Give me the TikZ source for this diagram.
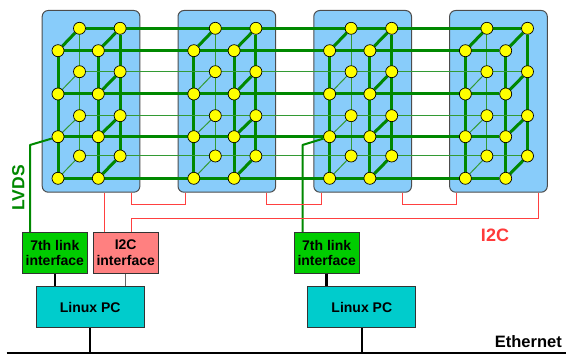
\documentclass[tikz,border=0pt]{standalone}
\usepackage{fontspec}
\setmainfont{Liberation Sans}
\usetikzlibrary{calc}
\pgfdeclarelayer{bg}
\pgfdeclarelayer{edges}
\pgfsetlayers{bg,edges,main}
\definecolor{boxblue}{HTML}{88CCFA}
\definecolor{gdark}{HTML}{008800}
\definecolor{glight}{HTML}{339A33}
\definecolor{linkgreen}{HTML}{00CC00}
\definecolor{i2cpink}{HTML}{FF8080}
\definecolor{pccyan}{HTML}{00CCCC}
\definecolor{redline}{HTML}{FF4040}
\definecolor{dotyellow}{HTML}{FFFF00}
\begin{document}
\begin{tikzpicture}[x=1pt,y=-1pt,
  cubebox/.style={draw=black!70,line width=1pt,fill=boxblue,rounded corners=6pt,minimum width=97.7pt,minimum height=181.7pt,anchor=north west,inner sep=0pt},
  dot/.style={circle,draw=black,line width=0.7pt,fill=dotyellow,minimum size=12pt,inner sep=0pt},
  gthick/.style={draw=gdark,line width=3pt},
  gthin/.style={draw=glight,line width=1pt},
  redw/.style={draw=redline,line width=1pt},
  blk/.style={draw=black,line width=2.5pt},
  lbl/.style={font=\bfseries\fontsize{14}{15.3}\selectfont,align=center,inner sep=0pt},
  hwbox/.style={draw=black!80,line width=1pt,minimum width=65pt,minimum height=41pt,lbl},
  pcbox/.style={draw=black!80,line width=1pt,fill=pccyan,minimum width=108.3pt,minimum height=40.6pt,lbl}
]
\useasboundingbox (0,0) rectangle (566,355);

% cube boards and nodes
\foreach \b in {1,...,4} {
  \pgfmathsetmacro\bx{41.7+135.8*(\b-1)}
  \begin{pgfonlayer}{bg}
    \node[cubebox] (box\b) at (\bx,10) {};
  \end{pgfonlayer}
  \coordinate (pL\b) at ($(box\b.south west)+(7.8,0)$);
  \coordinate (pR\b) at ($(box\b.south west)+(89.4,0)$);
  \foreach \r/\fy/\ky in {1/50.7/28.3, 2/94/71.7, 3/136.7/115.7, 4/178.3/156} {
    \node[dot] (f-\b-1-\r) at (\bx+16.3,\fy) {};
    \node[dot] (f-\b-2-\r) at (\bx+56.6,\fy) {};
    \node[dot] (k-\b-1-\r) at (\bx+37.8,\ky) {};
    \node[dot] (k-\b-2-\r) at (\bx+78.4,\ky) {};
  }
}

% green links
\begin{pgfonlayer}{edges}
\foreach \b in {1,...,4} {
  \draw[gthick] (f-\b-1-1) -- (f-\b-1-4);
  \draw[gthick] (f-\b-2-1) -- (f-\b-2-4);
  \draw[gthin] (k-\b-1-1) -- (k-\b-1-4);
  \draw[gthick] (k-\b-2-1) -- (k-\b-2-4);
  \draw[gthick] (f-\b-1-1) -- (k-\b-1-1);
  \foreach \r in {2,3,4} \draw[gthin] (f-\b-1-\r) -- (k-\b-1-\r);
  \foreach \r in {1,...,4} \draw[gthick] (f-\b-2-\r) -- (k-\b-2-\r);
}
\foreach \r in {1,...,4} \draw[gthick] (f-1-1-\r) -- (f-4-2-\r);
\draw[gthick] (k-1-1-1) -- (k-4-2-1);
\foreach \r in {2,3,4} \draw[gthin] (k-1-1-\r) -- (k-4-2-\r);
\end{pgfonlayer}

% lower boxes
\node[hwbox,fill=linkgreen] (link1) at (54.8,252.8) {7th link\\interface};
\node[hwbox,fill=i2cpink] (i2c) at (125.7,252.8) {I2C\\interface};
\node[hwbox,fill=linkgreen] (link2) at (326.7,252.8) {7th link\\interface};
\node[pcbox] (pc1) at (90.2,307) {Linux PC};
\node[pcbox] (pc2) at (361.8,307) {Linux PC};

% LVDS links
\coordinate (lv1) at (30,145);
\coordinate (lv2) at (302.5,145);
\draw[gthick,line width=2pt,line join=round] (f-1-1-3) -- (lv1) -- (lv1 |- link1.north);
\draw[gthick,line width=2pt,line join=round] (f-3-1-3) -- (lv2) -- (lv2 |- link2.north);

% I2C chain
\coordinate (ia) at (104.3,205);
\coordinate (ib) at (131,205);
\coordinate (ic) at (131,218.3);
\draw[redw] (ia |- i2c.north) -- (ia |- box1.south);
\draw[redw] (ib |- box1.south) -- (ib) -- (pL2 |- ib) -- (pL2);
\draw[redw] (pR2) -- (pR2 |- ib) -- (pL3 |- ib) -- (pL3);
\draw[redw] (pR3) -- (pR3 |- ib) -- (pL4 |- ib) -- (pL4);
\draw[redw] (pR4) -- (pR4 |- ic) -- (ic) -- (ic |- i2c.north);

% PC links
\coordinate (eL) at (6.7,353);
\coordinate (eR) at (566,353);
\draw[blk] (link1.south) -- (link1.south |- pc1.north);
\draw[draw=black!60,line width=1pt] (i2c.south) -- (i2c.south |- pc1.north);
\draw[blk] (link2.south) -- (link2.south |- pc2.north);
\draw[blk] (pc1.south) -- (pc1.south |- eL);
\draw[blk] (pc2.south) -- (pc2.south |- eL);
\draw[blk] (eL) -- (eR);

% labels
\node[font=\bfseries\fontsize{17.5}{18}\selectfont,text=gdark,rotate=90,inner sep=0pt] (lvds) at (18.3,188) {LVDS};
\node[font=\bfseries\fontsize{18}{19}\selectfont,text=redline!90!red,inner sep=0pt] (i2clbl) at (495,235) {I2C};
\node[font=\bfseries\fontsize{16.5}{17}\selectfont,anchor=east,inner sep=0pt] (eth) at (562,341.7) {Ethernet};
\end{tikzpicture}
\end{document}
